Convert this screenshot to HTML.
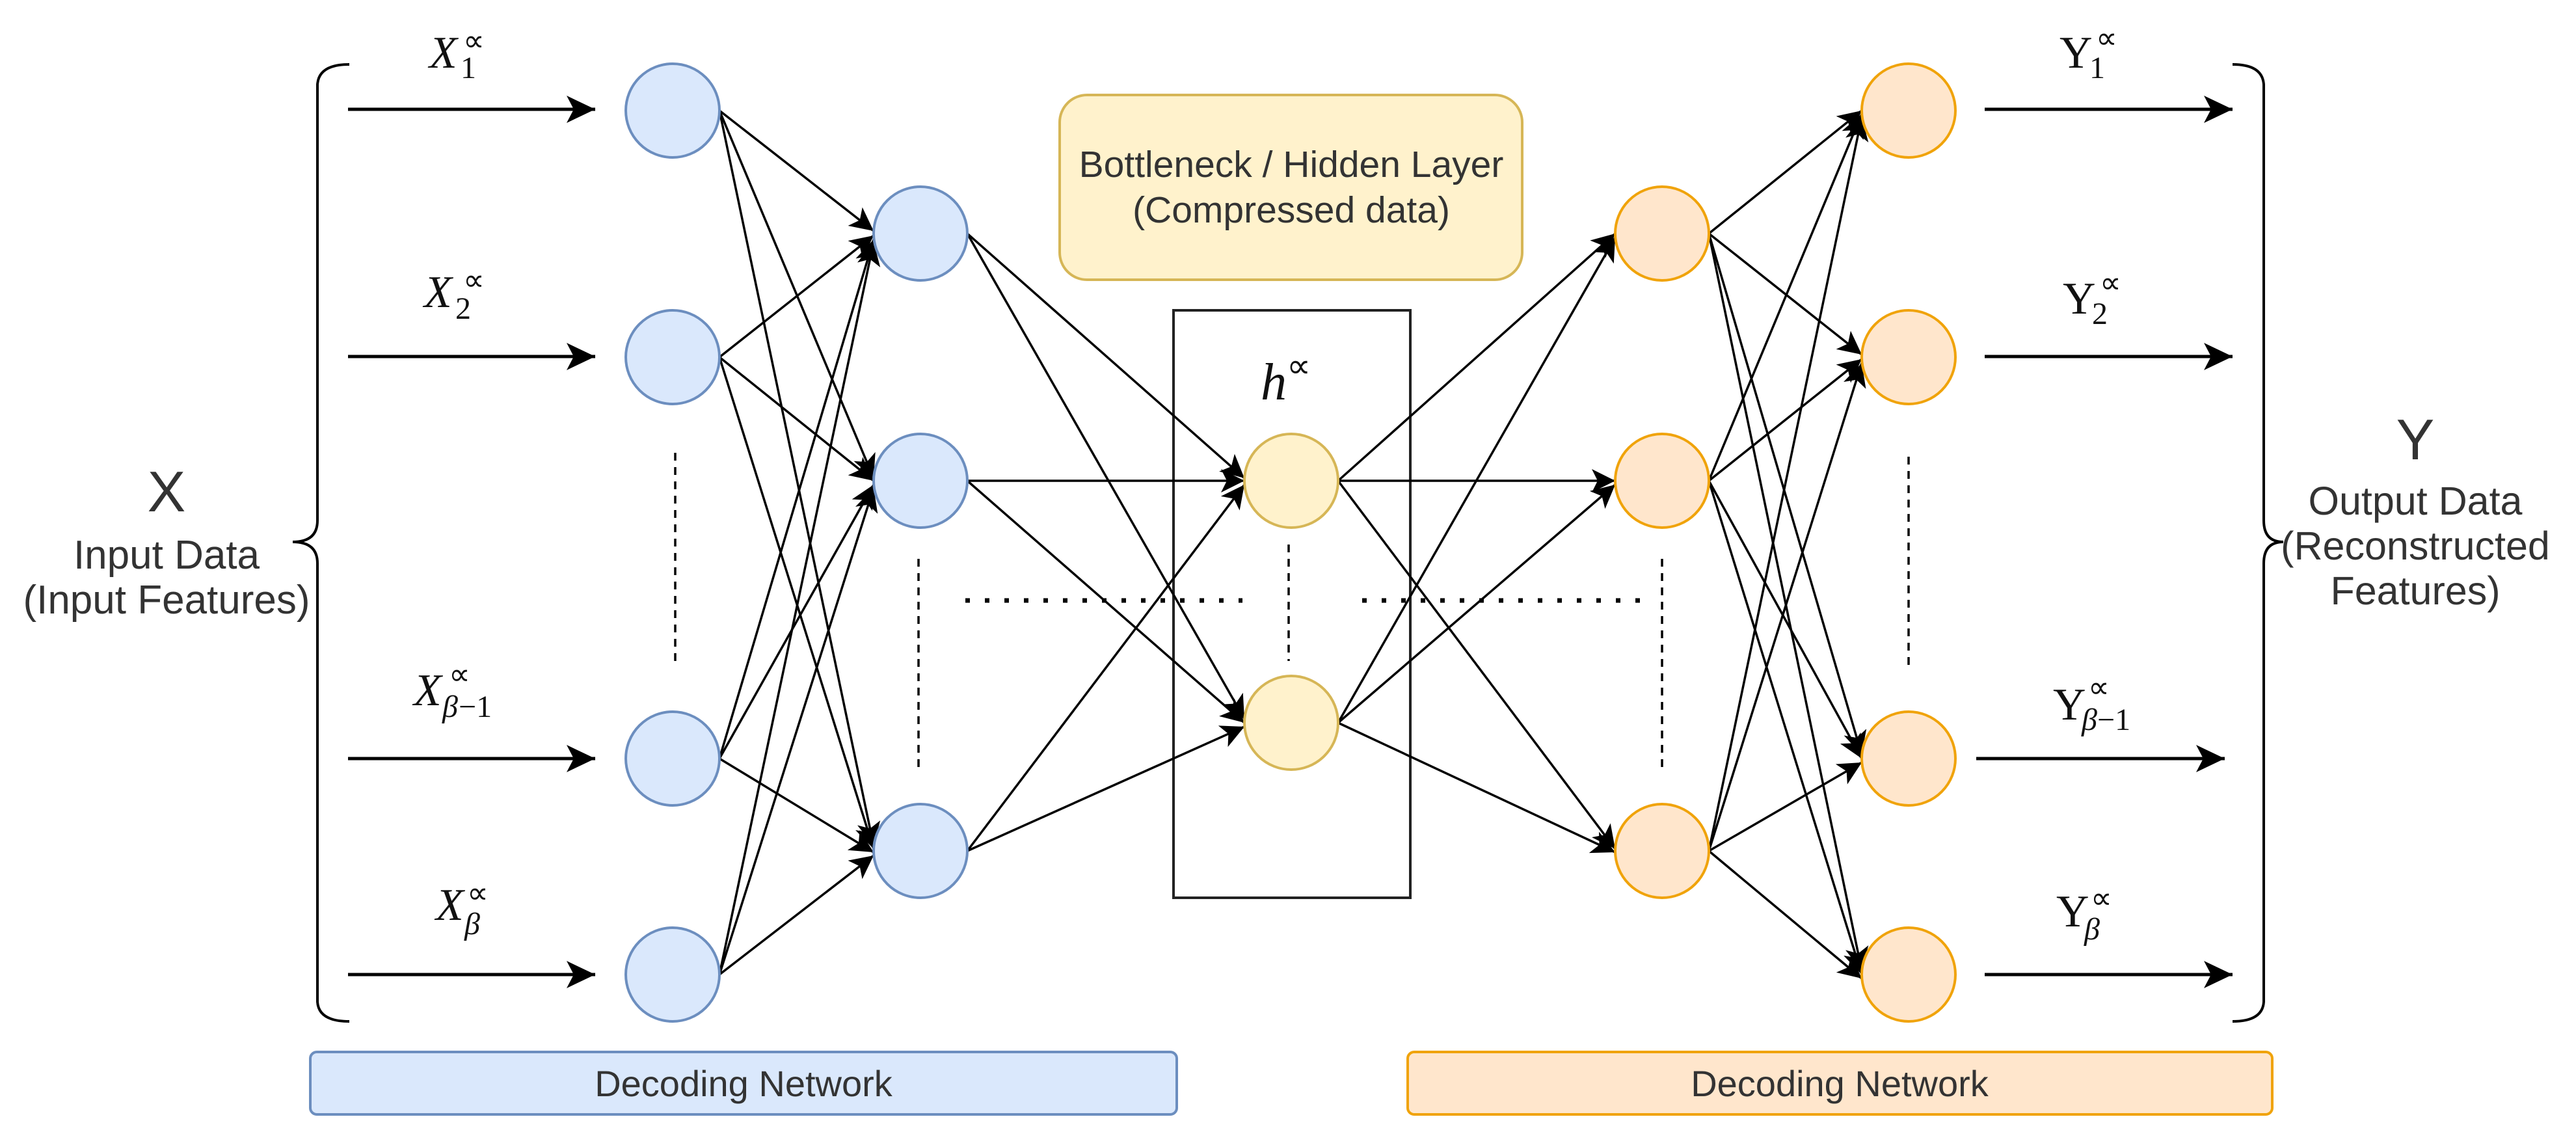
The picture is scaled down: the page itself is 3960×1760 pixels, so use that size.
<!DOCTYPE html>
<html><head><meta charset="utf-8"><style>
html,body{margin:0;padding:0;background:#fff;}
svg{display:block;}
.s{font-family:"Liberation Sans",sans-serif;fill:#333;}
.m{font-family:"Liberation Serif",serif;font-style:italic;fill:#111;}
.u{font-family:"Liberation Serif",serif;fill:#111;}
.p{font-family:"DejaVu Sans",sans-serif;fill:#111;}
</style></head><body>
<svg width="3960" height="1760" viewBox="0 0 3960 1760" xmlns="http://www.w3.org/2000/svg">
<defs>
<marker id="a" markerUnits="userSpaceOnUse" markerWidth="40" markerHeight="40" refX="36" refY="18" orient="auto">
<path d="M0,0 L36,18 L0,36 L9,18 Z" fill="#000"/>
</marker>
<marker id="b" markerUnits="userSpaceOnUse" markerWidth="50" markerHeight="50" refX="44" refY="21" orient="auto">
<path d="M0,0 L44,21 L0,42 L11,21 Z" fill="#000"/>
</marker>
</defs>

<rect x="1629" y="146" width="711" height="284" rx="42" fill="#fff2cc" stroke="#d6b656" stroke-width="4"/>
<text class="s" x="1985" y="272" font-size="57" text-anchor="middle">Bottleneck / Hidden Layer</text>
<text class="s" x="1985" y="342" font-size="57" text-anchor="middle">(Compressed data)</text>

<rect x="1804" y="477" width="364" height="903" fill="none" stroke="#222" stroke-width="4"/>
<text class="m" x="1938" y="614" font-size="80">h</text>
<text class="p" x="1978" y="580" font-size="52">∝</text>

<g stroke="#000" stroke-width="5" marker-end="url(#b)">
<line x1="535" y1="168" x2="915" y2="168"/>
<line x1="535" y1="548" x2="915" y2="548"/>
<line x1="535" y1="1166" x2="915" y2="1166"/>
<line x1="535" y1="1498" x2="915" y2="1498"/>
<line x1="3051" y1="168" x2="3432" y2="168"/>
<line x1="3051" y1="548" x2="3432" y2="548"/>
<line x1="3038" y1="1166" x2="3420" y2="1166"/>
<line x1="3051" y1="1498" x2="3432" y2="1498"/>
</g>

<g stroke="#000" stroke-width="3.5" marker-end="url(#a)">
<line x1="1106" y1="170" x2="1343" y2="355"/>
<line x1="1106" y1="170" x2="1343" y2="735"/>
<line x1="1106" y1="170" x2="1343" y2="1300"/>
<line x1="1106" y1="549" x2="1343" y2="362"/>
<line x1="1106" y1="549" x2="1343" y2="739"/>
<line x1="1106" y1="549" x2="1343" y2="1305"/>
<line x1="1106" y1="1166" x2="1343" y2="368"/>
<line x1="1106" y1="1166" x2="1343" y2="745"/>
<line x1="1106" y1="1166" x2="1343" y2="1310"/>
<line x1="1106" y1="1498" x2="1343" y2="372"/>
<line x1="1106" y1="1498" x2="1343" y2="750"/>
<line x1="1106" y1="1498" x2="1343" y2="1315"/>
<line x1="1487" y1="359" x2="1913" y2="735"/>
<line x1="1487" y1="359" x2="1913" y2="1105"/>
<line x1="1487" y1="739" x2="1913" y2="739"/>
<line x1="1487" y1="739" x2="1913" y2="1111"/>
<line x1="1487" y1="1308" x2="1913" y2="745"/>
<line x1="1487" y1="1308" x2="1913" y2="1117"/>
<line x1="2057" y1="739" x2="2483" y2="359"/>
<line x1="2057" y1="739" x2="2483" y2="739"/>
<line x1="2057" y1="739" x2="2483" y2="1305"/>
<line x1="2057" y1="1111" x2="2483" y2="365"/>
<line x1="2057" y1="1111" x2="2483" y2="745"/>
<line x1="2057" y1="1111" x2="2483" y2="1310"/>
<line x1="2627" y1="359" x2="2862" y2="170"/>
<line x1="2627" y1="359" x2="2862" y2="545"/>
<line x1="2627" y1="359" x2="2862" y2="1160"/>
<line x1="2627" y1="359" x2="2862" y2="1492"/>
<line x1="2627" y1="739" x2="2862" y2="175"/>
<line x1="2627" y1="739" x2="2862" y2="552"/>
<line x1="2627" y1="739" x2="2862" y2="1166"/>
<line x1="2627" y1="739" x2="2862" y2="1498"/>
<line x1="2627" y1="1308" x2="2862" y2="180"/>
<line x1="2627" y1="1308" x2="2862" y2="558"/>
<line x1="2627" y1="1308" x2="2862" y2="1172"/>
<line x1="2627" y1="1308" x2="2862" y2="1504"/>
</g>

<g stroke-width="4">
<g fill="#dae8fc" stroke="#6c8ebf">
<circle cx="1034" cy="170" r="72"/><circle cx="1034" cy="549" r="72"/>
<circle cx="1034" cy="1166" r="72"/><circle cx="1034" cy="1498" r="72"/>
<circle cx="1415" cy="359" r="72"/><circle cx="1415" cy="739" r="72"/><circle cx="1415" cy="1308" r="72"/>
</g>
<g fill="#fff2cc" stroke="#d6b656">
<circle cx="1985" cy="739" r="72"/><circle cx="1985" cy="1111" r="72"/>
</g>
<g fill="#ffe6cc" stroke="#f0a30a">
<circle cx="2555" cy="359" r="72"/><circle cx="2555" cy="739" r="72"/><circle cx="2555" cy="1308" r="72"/>
<circle cx="2934" cy="170" r="72"/><circle cx="2934" cy="549" r="72"/>
<circle cx="2934" cy="1166" r="72"/><circle cx="2934" cy="1498" r="72"/>
</g>
</g>

<g stroke="#000" stroke-width="3.5" stroke-dasharray="12,10">
<line x1="1038" y1="696" x2="1038" y2="1022"/>
<line x1="1412" y1="859" x2="1412" y2="1185"/>
<line x1="1981" y1="837" x2="1981" y2="1016"/>
<line x1="2555" y1="859" x2="2555" y2="1185"/>
<line x1="2934" y1="702" x2="2934" y2="1028"/>
</g>
<g stroke="#000" stroke-width="7" stroke-dasharray="7,23">
<line x1="1484" y1="923" x2="1910" y2="923"/>
<line x1="2094" y1="923" x2="2530" y2="923"/>
</g>

<path d="M537,99 Q490,99 488,130 L488,800 Q488,833 450,833 Q488,833 488,866 L488,1540 Q490,1570 537,1570" fill="none" stroke="#000" stroke-width="4"/>
<path d="M3432,99 Q3478,99 3480,130 L3480,800 Q3480,833 3510,833 Q3480,833 3480,866 L3480,1540 Q3478,1570 3432,1570" fill="none" stroke="#000" stroke-width="4"/>

<text class="s" x="256" y="786" font-size="88" text-anchor="middle">X</text>
<text class="s" x="256" y="874" font-size="62" text-anchor="middle">Input Data</text>
<text class="s" x="256" y="943" font-size="62" text-anchor="middle">(Input Features)</text>
<text class="s" x="3713" y="706" font-size="88" text-anchor="middle">Y</text>
<text class="s" x="3713" y="791" font-size="61" text-anchor="middle">Output Data</text>
<text class="s" x="3713" y="860" font-size="61" text-anchor="middle">(Reconstructed</text>
<text class="s" x="3713" y="929" font-size="61" text-anchor="middle">Features)</text>

<g font-size="70">
<text class="m" x="660" y="104">X</text><text class="u" x="708" y="120" font-size="48">1</text><text class="p" x="712" y="78" font-size="46">∝</text>
<text class="m" x="652" y="472">X</text><text class="u" x="700" y="490" font-size="48">2</text><text class="p" x="712" y="446" font-size="46">∝</text>
<text class="m" x="636" y="1084">X</text><text class="m" x="680" y="1102" font-size="48">β</text><text class="u" x="705" y="1102" font-size="48">−1</text><text class="p" x="690" y="1052" font-size="46">∝</text>
<text class="m" x="670" y="1414">X</text><text class="m" x="714" y="1436" font-size="48">β</text><text class="p" x="718" y="1388" font-size="46">∝</text>
<text class="u" x="3166" y="104">Y</text><text class="u" x="3212" y="120" font-size="48">1</text><text class="p" x="3222" y="74" font-size="46">∝</text>
<text class="u" x="3171" y="482">Y</text><text class="u" x="3216" y="498" font-size="48">2</text><text class="p" x="3228" y="450" font-size="46">∝</text>
<text class="u" x="3156" y="1106">Y</text><text class="m" x="3200" y="1122" font-size="48">β</text><text class="u" x="3224" y="1122" font-size="48">−1</text><text class="p" x="3210" y="1072" font-size="46">∝</text>
<text class="u" x="3161" y="1424">Y</text><text class="m" x="3204" y="1444" font-size="48">β</text><text class="p" x="3214" y="1396" font-size="46">∝</text>
</g>

<rect x="477" y="1617" width="1332" height="96" rx="10" fill="#dae8fc" stroke="#6c8ebf" stroke-width="4"/>
<text class="s" x="1143" y="1685" font-size="56" text-anchor="middle">Decoding Network</text>
<rect x="2164" y="1617" width="1329" height="96" rx="10" fill="#ffe6cc" stroke="#f0a30a" stroke-width="4"/>
<text class="s" x="2828" y="1685" font-size="56" text-anchor="middle">Decoding Network</text>
</svg>
</body></html>
